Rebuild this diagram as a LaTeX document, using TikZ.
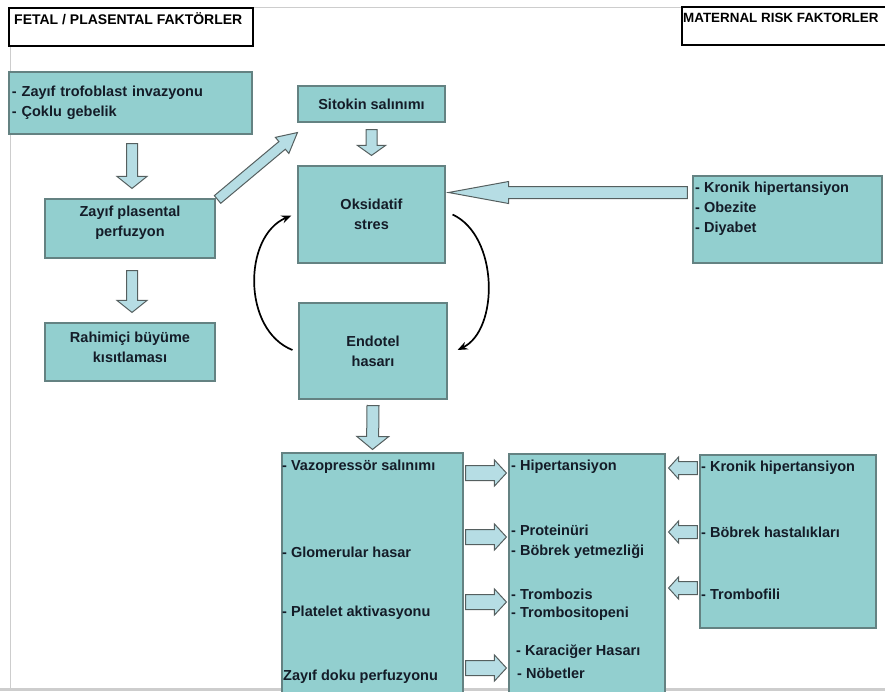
\documentclass[tikz,border=0pt]{standalone}
\usepackage{fontspec}
\setmainfont{Liberation Sans}
\usepackage{tikz}
\usetikzlibrary{positioning,arrows.meta,calc}
\usepackage{xcolor}

\definecolor{boxteal}{RGB}{146,207,207}
\definecolor{boxline}{RGB}{100,130,130}
\definecolor{arrowfill}{RGB}{182,221,228}
\definecolor{arrowline}{RGB}{85,95,95}
\definecolor{txtcol}{RGB}{20,28,40}
\definecolor{pageline}{RGB}{205,205,205}

% block arrow: stem half width, head half width, head length, from, to
\newcommand{\fatarrow}[5]{%
  \path (#4) coordinate (fa-s) (#5) coordinate (fa-t);
  \path ($(fa-t)!#3!(fa-s)$) coordinate (fa-h);
  \draw[fat] ($(fa-s)!#1!90:(fa-t)$) -- ($(fa-h)!#1!90:(fa-t)$) -- ($(fa-h)!#2!90:(fa-t)$)
    -- (fa-t) -- ($(fa-h)!#2!-90:(fa-t)$) -- ($(fa-h)!#1!-90:(fa-t)$) -- ($(fa-s)!#1!-90:(fa-t)$) -- cycle;
}

\begin{document}
\begin{tikzpicture}[x=1pt, y=-1pt,
  tealbox/.style={draw=boxline, fill=boxteal, line width=1.1pt, inner sep=2pt},
  headbox/.style={draw=black, line width=1.4pt, fill=white},
  bodyfont/.style={font=\fontsize{14.5}{20}\selectfont\bfseries, text=txtcol},
  txt/.style={bodyfont, inner sep=0pt, anchor=west},
  headtxt/.style={font=\fontsize{14}{16}\selectfont\bfseries, text=black, inner sep=0pt, anchor=west},
  fat/.style={draw=arrowline, fill=arrowfill, line width=1pt},
  loopline/.style={-{Stealth[length=10pt,width=8pt]}, line width=1.7pt}]
\useasboundingbox (0,0) rectangle (885,691);
\clip (0,0) rectangle (885,691);
% page edges
\draw[pageline, line width=1pt] (9,7) -- (885,7);
\draw[pageline, line width=1pt] (10,7) -- (10,691);
\draw[pageline, line width=3pt] (0,689) -- (885,689);
% headers
\node[headbox, minimum width=244, minimum height=38] (fetalbox) at (131,27) {};
\node[headtxt] (fetaltxt) at (14,19) {FETAL / PLASENTAL FAKTÖRLER};
\node[headbox, minimum width=206, minimum height=38] (matbox) at (785,26) {};
\node[headtxt, font=\fontsize{13.4}{16}\selectfont\bfseries] (mattxt) at (683,18) {MATERNAL RISK FAKTORLER};
% fetal side
\node[tealbox, bodyfont, minimum width=243, minimum height=62, text width=237, align=left] (trof) at (130.5,103)
  {- Zayıf trofoblast invazyonu\\- Çoklu gebelik};
\node[tealbox, minimum width=170, minimum height=59] (plas) at (130,228.5) {};
\node[bodyfont, inner sep=0pt, align=center] (plastxt) at (130,223) {Zayıf plasental\\perfuzyon};
\node[tealbox, minimum width=170, minimum height=58] (rahim) at (130,352) {};
\node[bodyfont, inner sep=0pt, align=center] (rahimtxt) at (130,347.5) {Rahimiçi büyüme\\kısıtlaması};
% centre column
\node[tealbox, bodyfont, minimum width=147, minimum height=36] (sitokin) at (371.5,104) {Sitokin salınımı};
\node[tealbox, bodyfont, minimum width=147, minimum height=97, align=center] (oks) at (371.5,214.5) {Oksidatif\\stres};
\node[tealbox, bodyfont, minimum width=148, minimum height=96, align=center] (endo) at (373,351) {Endotel\\hasarı};
% maternal side
\node[tealbox, minimum width=189, minimum height=87] (kronik) at (787.5,219.5) {};
\node[txt, align=left] (kroniktxt) at (695,209) {- Kronik hipertansiyon\\- Obezite\\- Diyabet};
% bottom row
\node[tealbox, minimum width=181, minimum height=250] (vaso) at (372.5,578) {};
\node[txt] (vaso1) at (282,467) {- Vazopressör salınımı};
\node[txt] (vaso2) at (282,552) {- Glomerular hasar};
\node[txt] (vaso3) at (282,613) {- Platelet aktivasyonu};
\node[txt] (vaso4) at (283,677) {Zayıf doku perfuzyonu};
\node[tealbox, minimum width=156, minimum height=250] (klinik) at (587,579) {};
\node[txt] (hiper) at (511,467) {- Hipertansiyon};
\node[txt] (prot) at (511,530) {- Proteinüri};
\node[txt] (bobrek) at (511,552) {- Böbrek yetmezliği};
\node[txt] (tromb) at (511,594) {- Trombozis};
\node[txt] (trombsit) at (511,614) {- Trombositopeni};
\node[txt] (karac) at (516,652) {- Karaciğer Hasarı};
\node[txt] (nobet) at (517,673) {- Nöbetler};
\node[tealbox, minimum width=176, minimum height=173] (risk) at (788,541.5) {};
\node[txt] (risk1) at (701,468) {- Kronik hipertansiyon};
\node[txt] (risk2) at (701,532) {- Böbrek hastalıkları};
\node[txt] (risk3) at (701,594) {- Trombofili};
% block arrows
\fatarrow{5.5pt}{15pt}{12pt}{$(trof.south)+(1.5,9)$}{$(plas.north)+(2,-10)$}
\fatarrow{5.5pt}{15pt}{12pt}{$(plas.south)+(2,12)$}{$(rahim.north)+(2,-10)$}
\fatarrow{5.5pt}{14pt}{10pt}{$(sitokin.south)+(0,7)$}{$(oks.north)+(0,-10)$}
\fatarrow{5pt}{10.5pt}{20pt}{$(plas.north east)+(2,1)$}{$(sitokin.south west)+(0,10)$}
\fatarrow{6pt}{11pt}{60pt}{$(kronik.west |- oks.east)+(-5,-22)$}{$(oks.east)+(3,-22)$}
\fatarrow{6pt}{16pt}{13pt}{$(endo.south)+(0,6)$}{$(vaso.north)+(0,-3)$}
\foreach \yy in {473,537,602,668} {
  \fatarrow{7.5pt}{13pt}{12pt}{$(vaso.east |- 0,\yy)+(2,0)$}{$(klinik.west |- 0,\yy)+(-2,0)$}
}
\foreach \yy in {468,532,588} {
  \fatarrow{6.5pt}{11pt}{10pt}{$(risk.west |- 0,\yy)+(-2,0)$}{$(klinik.east |- 0,\yy)+(3,0)$}
}
% feedback loop
\draw[loopline] ($(endo.west)+(-6,-1)$) .. controls (242,330) and (243,236) .. ($(oks.west)+(-6,1)$);
\draw[loopline] ($(oks.east)+(7,0)$) .. controls (499,236) and (499,330) .. ($(endo.east)+(10,-1)$);
\end{tikzpicture}
\end{document}
